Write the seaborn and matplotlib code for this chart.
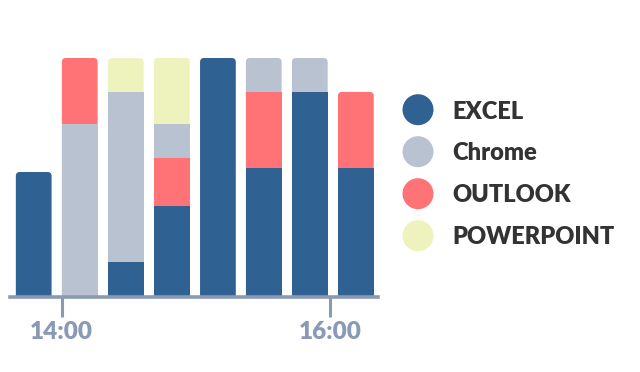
import matplotlib
matplotlib.use("Agg")
import matplotlib.pyplot as plt
from matplotlib.patches import FancyBboxPatch, Ellipse
import numpy as np
import pandas as pd
import seaborn as sns

# ---- data ----
apps = ["EXCEL", "Chrome", "OUTLOOK", "POWERPOINT"]
colors = ["#306193", "#B8C2D0", "#FF7276", "#EEF2BD"]
# bar centres, minutes after 14:00
bar_minutes = [-12.5, 8.1, 28.7, 49.3, 69.9, 90.4, 111.0, 131.6]
excel = [52.3, 0, 14.6, 38.1, 100.0, 54.0, 85.8, 54.0]
chrome = [0, 72.4, 71.1, 14.2, 0, 14.2, 14.2, 0]
outlook = [0, 27.6, 0, 20.1, 0, 31.8, 0, 31.8]
powerpoint = [0, 0, 14.2, 27.6, 0, 0, 0, 0]
stack_order = [
    ["EXCEL"],
    ["Chrome", "OUTLOOK"],
    ["EXCEL", "Chrome", "POWERPOINT"],
    ["EXCEL", "OUTLOOK", "Chrome", "POWERPOINT"],
    ["EXCEL"],
    ["EXCEL", "OUTLOOK", "Chrome"],
    ["EXCEL", "Chrome"],
    ["EXCEL", "OUTLOOK"],
]
tick_minutes = [0, 120]
tick_labels = ["14:00", "16:00"]

values = {"EXCEL": excel, "Chrome": chrome, "OUTLOOK": outlook, "POWERPOINT": powerpoint}
palette = dict(zip(apps, colors))

# ---- build stacking layers ----
n_layers = max(len(o) for o in stack_order)
rows = []
totals = []
for i, order in enumerate(stack_order):
    cum = 0.0
    for k in range(n_layers):
        if k < len(order):
            app = order[k]
            cum += values[app][i]
            rows.append(dict(layer=k, x=bar_minutes[i], top=cum, app=app))
        else:
            rows.append(dict(layer=k, x=bar_minutes[i], top=0.0, app=order[0]))
    totals.append(cum)
df = pd.DataFrame(rows)

# ---- figure ----
sns.set_theme(style="white")
plt.rcParams["font.family"] = ["Lato", "DejaVu Sans"]

W, H = 640, 372
fig = plt.figure(figsize=(W / 100, H / 100), dpi=100)
ax_left, ax_right, ax_bottom, ax_top = 10, 378, 297, 58
ax = fig.add_axes([ax_left / W, (H - ax_bottom) / H,
                   (ax_right - ax_left) / W, (ax_bottom - ax_top) / H])

for k in reversed(range(n_layers)):
    sub = df[df["layer"] == k]
    sns.barplot(data=sub, x="x", y="top", hue="app", hue_order=apps,
                palette=palette, dodge=False, native_scale=True, width=0.78,
                saturation=1, errorbar=None, legend=False, ax=ax,
                linewidth=0, edgecolor="none")

xmin, xmax = -23.1, 141.5
ymax = max(totals)
ax.set_xlim(xmin, xmax)
ax.set_ylim(0, ymax)

# round the top corners of each visible bar top
px_per_x = (ax_right - ax_left) / (xmax - xmin)
px_per_y = (ax_bottom - ax_top) / ymax
r_px = 4.0
r_x = r_px / px_per_x
r_y = r_px / px_per_y
for i, tot in enumerate(totals):
    for p in list(ax.patches):
        if not isinstance(p, matplotlib.patches.Rectangle):
            continue
        h = p.get_height()
        if h > 0 and abs(p.get_y() + h - tot) < 1e-6 and \
                abs(p.get_x() + p.get_width() / 2 - bar_minutes[i]) < 1:
            x0, w, fc = p.get_x(), p.get_width(), p.get_facecolor()
            p.remove()
            fb = FancyBboxPatch((x0, -r_y * 3), w, tot + r_y * 3,
                                boxstyle=f"round,pad=0,rounding_size={r_x}",
                                mutation_aspect=r_y / r_x,
                                facecolor=fc, edgecolor="none", linewidth=0,
                                zorder=0.9)
            ax.add_patch(fb)
            break

axis_col = "#8A9AB5"
for s in ["left", "right", "top"]:
    ax.spines[s].set_visible(False)
ax.spines["bottom"].set_color(axis_col)
ax.spines["bottom"].set_linewidth(2.6)
ax.spines["bottom"].set_zorder(3)
ax.set_yticks([])
ax.set_xticks(tick_minutes)
ax.set_xticklabels(tick_labels, fontweight="heavy")
ax.tick_params(axis="x", length=14.5, width=2.2, color=axis_col, pad=2.5,
               labelsize=17.5, labelcolor=axis_col, bottom=True)
ax.set_xlabel("")
ax.set_ylabel("")
ax.grid(False)

# ---- legend ----
circ_x = 418
circ_d = 31
text_x = 452
row_y0 = 109.7
row_dy = 42
for j, (app, col) in enumerate(zip(apps, colors)):
    cy = row_y0 + j * row_dy
    e = Ellipse((circ_x / W, 1 - cy / H), circ_d / W, circ_d / H,
                transform=fig.transFigure, facecolor=col, edgecolor="none")
    fig.add_artist(e)
    fig.text(text_x / W, 1 - (cy + 8.8) / H, app, fontsize=17.0,
             fontweight="heavy", color="#333333", va="baseline", ha="left")

fig.savefig("out.png", dpi=100)
